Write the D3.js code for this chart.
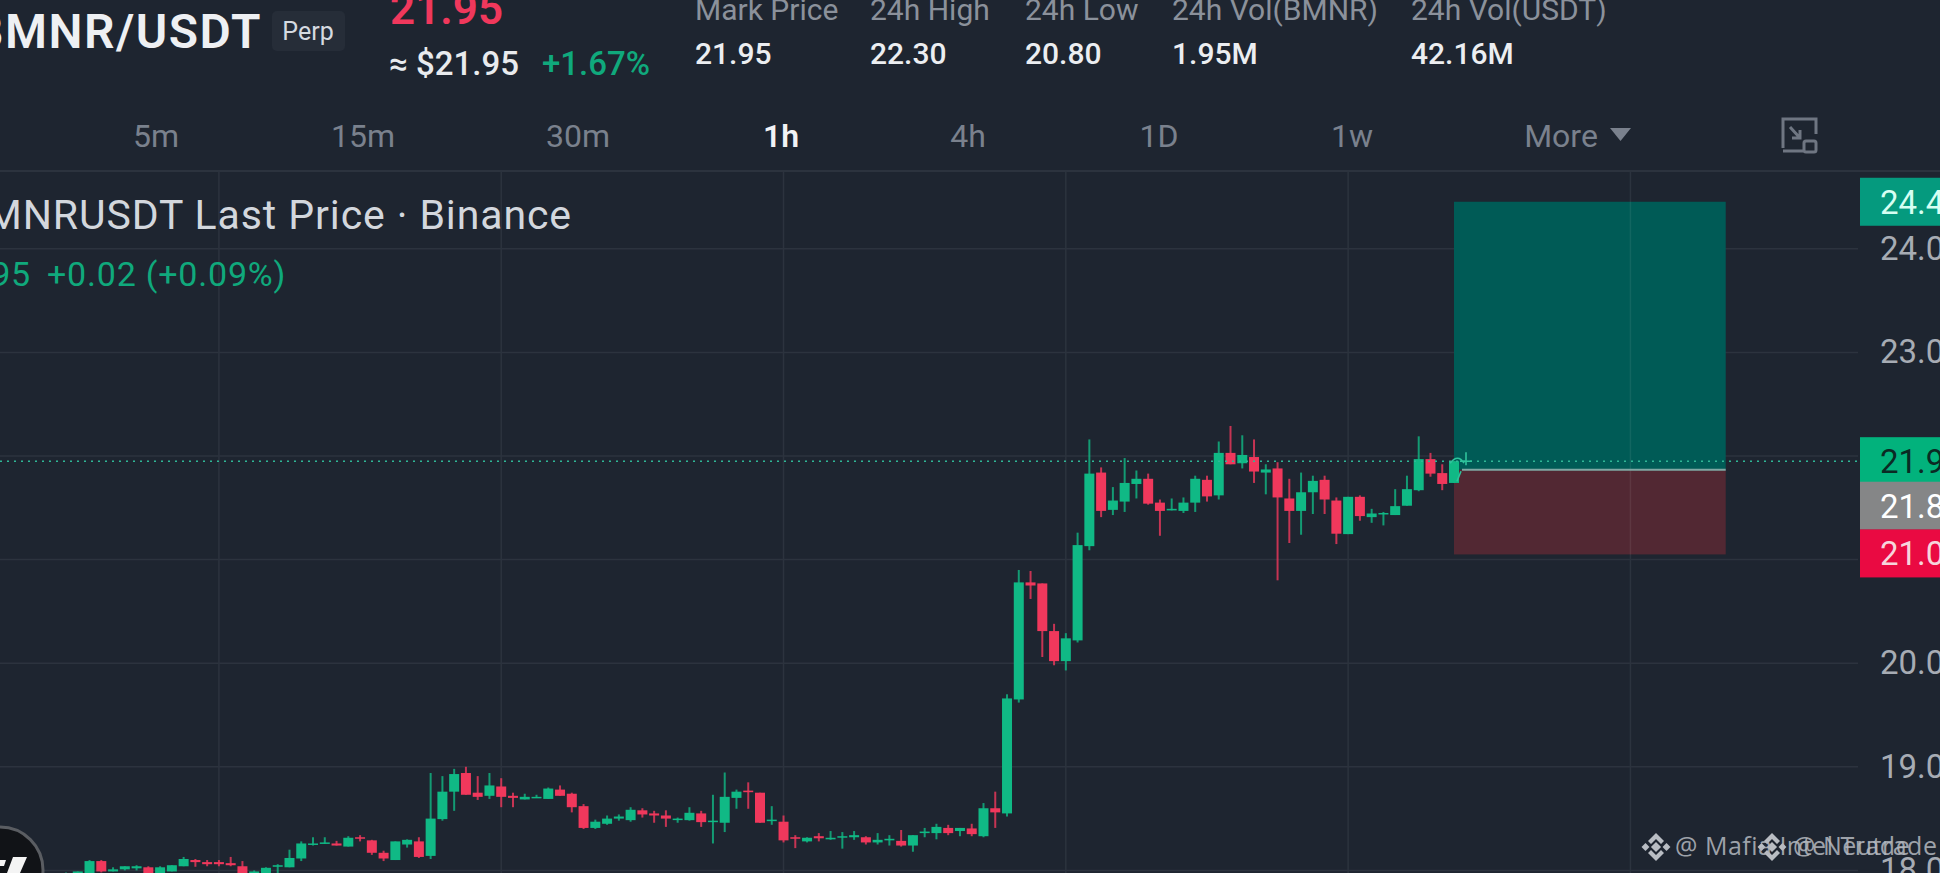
<!DOCTYPE html>
<html><head><meta charset="utf-8">
<script src="https://cdn.jsdelivr.net/npm/d3@7"></script>
<style>html,body{margin:0;padding:0;background:#1e2530;overflow:hidden}svg{display:block}text{font-family:Roboto,sans-serif}</style>
</head><body><div id="c"></div>
<script>
const opens=[17.93,17.93,17.96,18.09,17.99,18.01,18.02,18.03,17.97,17.99,18.04,18.10,18.08,18.08,18.07,18.04,17.93,17.97,18.035,18.03,
18.115,18.25,18.26,18.26,18.23,18.32,18.29,18.17,18.10,18.25,18.28,18.14,18.495,18.76,18.94,18.75,18.72,18.81,18.72,18.685,
18.70,18.69,18.78,18.74,18.62,18.41,18.45,18.50,18.485,18.58,18.55,18.53,18.49,18.485,18.55,18.47,18.46,18.70,18.77,18.75,
18.476,18.47,18.32,18.28,18.33,18.30,18.32,18.32,18.32,18.27,18.29,18.285,18.24,18.36,18.36,18.41,18.38,18.405,18.33,18.60,
18.55,19.65,20.78,20.77,20.31,20.02,20.22,21.13,21.84,21.48,21.56,21.73,21.78,21.55,21.475,21.47,21.55,21.77,21.62,22.03,
21.93,21.99,21.84,21.88,21.59,21.47,21.65,21.77,21.57,21.246,21.606,21.41,21.436,21.43,21.52,21.67,21.97,21.835,21.74];
const highs=[17.98,17.99,18.10,18.10,18.03,18.04,18.05,18.04,18.04,18.05,18.13,18.11,18.10,18.10,18.13,18.09,18.00,18.03,18.06,18.20,
18.28,18.32,18.32,18.285,18.33,18.34,18.295,18.19,18.28,18.30,18.32,18.94,18.91,18.98,19.00,18.91,18.94,18.89,18.75,18.74,
18.73,18.80,18.82,18.75,18.64,18.49,18.53,18.54,18.61,18.60,18.575,18.58,18.51,18.61,18.575,18.73,18.945,18.78,18.85,18.75,
18.62,18.53,18.34,18.32,18.36,18.38,18.37,18.38,18.33,18.36,18.34,18.39,18.34,18.41,18.45,18.44,18.41,18.45,18.65,18.76,
19.70,20.90,20.89,20.77,20.38,20.29,21.26,22.16,21.89,21.70,21.98,21.86,21.83,21.58,21.59,21.60,21.81,21.81,22.14,22.29,
22.20,22.16,21.92,21.94,21.78,21.84,21.81,21.81,21.60,21.606,21.62,21.49,21.46,21.68,21.81,22.19,22.03,21.92,21.95];
const lows=[17.93,17.93,17.93,17.98,17.99,18.00,18.00,17.93,17.95,17.99,18.04,18.035,18.04,18.04,18.04,17.90,17.93,17.94,17.97,18.03,
18.09,18.24,18.255,18.24,18.23,18.28,18.15,18.09,18.10,18.22,18.12,18.11,18.48,18.575,18.73,18.68,18.69,18.61,18.61,18.685,
18.70,18.69,18.72,18.56,18.40,18.40,18.44,18.48,18.47,18.51,18.46,18.42,18.46,18.48,18.42,18.26,18.37,18.595,18.595,18.46,
18.44,18.27,18.215,18.27,18.28,18.295,18.21,18.295,18.25,18.25,18.24,18.23,18.18,18.32,18.30,18.34,18.33,18.33,18.32,18.41,
18.52,19.62,20.62,20.06,19.98,19.93,20.20,21.09,21.41,21.43,21.46,21.59,21.53,21.23,21.475,21.45,21.46,21.56,21.58,21.92,
21.88,21.74,21.63,20.80,21.16,21.24,21.44,21.44,21.15,21.246,21.375,21.355,21.33,21.43,21.52,21.66,21.80,21.67,21.74];
const closes=[17.96,17.99,18.09,17.99,18.01,18.04,18.04,17.96,18.03,18.05,18.11,18.08,18.06,18.06,18.05,17.93,17.99,18.025,18.05,18.12,
18.26,18.26,18.27,18.24,18.315,18.31,18.17,18.115,18.28,18.295,18.13,18.50,18.76,18.93,18.73,18.71,18.82,18.71,18.70,18.71,
18.71,18.79,18.72,18.61,18.41,18.47,18.50,18.52,18.585,18.54,18.53,18.50,18.50,18.556,18.466,18.48,18.71,18.76,18.755,18.46,
18.49,18.29,18.31,18.315,18.31,18.315,18.33,18.34,18.27,18.295,18.305,18.24,18.34,18.375,18.42,18.36,18.41,18.35,18.60,18.56,
19.66,20.78,20.75,20.31,20.02,20.24,21.14,21.83,21.47,21.57,21.74,21.78,21.54,21.47,21.49,21.55,21.78,21.61,22.03,21.92,
22.01,21.85,21.87,21.60,21.47,21.65,21.76,21.58,21.25,21.606,21.42,21.445,21.45,21.516,21.68,21.97,21.83,21.73,21.95];
const priceTicks=[24,23,20,19,18];
const gridPrices=[24,23,22,21,20,19,18];
const gridSlots=[13,37,61,85,109,133];
const lastPrice=21.95, targetPrice=24.454, entryPrice=21.867, stopPrice=21.05;
const tags=[["24.4",24.454,"#059a7e","#d6fff2"],["21.9",21.95,"#02b27c","#0b2a24"],["21.8",21.52,"#858687","#ffffff"],["21.0",21.05,"#ea0a42","#f6d5dc"]];
const stats=[["Mark Price","21.95"],["24h High","22.30"],["24h Low","20.80"],["24h Vol(BMNR)","1.95M"],["24h Vol(USDT)","42.16M"]];
const statX=[695,870,1025,1172,1411];
const tabs=["5m","15m","30m","1h","4h","1D","1w","More"];
const tabX=[156,363,578,781,968,1159,1352,1561];

const W=1940,H=873;
const svg=d3.select("#c").append("svg").attr("width",W).attr("height",H).attr("viewBox",`0 0 ${W} ${H}`);
svg.append("rect").attr("width",W).attr("height",H).attr("fill","#1e2530");
const x=d3.scaleLinear().domain([0,118]).range([66,1454]);
const y=d3.scaleLinear().domain([18,24]).range([870.4,248.8]);
const GRID="#2c333e",GREEN="#10b985",RED="#f0385c";
const T=(s,px,py,size,fill,o={})=>svg.append("text").attr("x",px).attr("y",py).attr("font-size",size).attr("fill",fill).attr("font-weight",o.w||400).attr("text-anchor",o.a||"start").style("letter-spacing",(o.ls||0)+"px").text(s);

// grid
svg.append("line").attr("x1",0).attr("x2",W).attr("y1",171).attr("y2",171).attr("stroke",GRID).attr("stroke-width",2);
svg.selectAll(".gh").data(gridPrices).join("line").attr("x1",0).attr("x2",1858).attr("y1",d=>y(d)).attr("y2",d=>y(d)).attr("stroke",GRID).attr("stroke-width",1.5);
svg.selectAll(".gv").data(gridSlots).join("line").attr("x1",d=>x(d)).attr("x2",d=>x(d)).attr("y1",171).attr("y2",H).attr("stroke",GRID).attr("stroke-width",1.5);

// position box
const bx=x(118),bw=x(141.1)-x(118);
svg.append("rect").attr("x",bx).attr("width",bw).attr("y",y(targetPrice)).attr("height",y(entryPrice)-y(targetPrice)).attr("fill","#005b56");
svg.append("rect").attr("x",bx).attr("width",bw).attr("y",y(entryPrice)).attr("height",y(stopPrice)-y(entryPrice)).attr("fill","#522833");
svg.append("line").attr("x1",x(133)).attr("x2",x(133)).attr("y1",y(targetPrice)).attr("y2",y(stopPrice)).attr("stroke","#fff").attr("stroke-opacity",.07).attr("stroke-width",1.5);
svg.append("line").attr("x1",bx+8).attr("x2",bx+bw).attr("y1",y(entryPrice)).attr("y2",y(entryPrice)).attr("stroke","#7fa8a4").attr("stroke-width",2);

// candles
const idx=d3.range(opens.length);
const col=i=>closes[i]>=opens[i]?GREEN:RED;
svg.append("g").selectAll("line").data(idx).join("line")
 .attr("x1",i=>x(i)).attr("x2",i=>x(i)).attr("y1",i=>y(highs[i])).attr("y2",i=>y(lows[i]))
 .attr("stroke",col).attr("stroke-opacity",.8).attr("stroke-width",2);
svg.append("g").selectAll("rect").data(idx).join("rect")
 .attr("x",i=>x(i)-5).attr("width",10)
 .attr("y",i=>y(Math.max(opens[i],closes[i])))
 .attr("height",i=>Math.max(1.5,Math.abs(y(opens[i])-y(closes[i]))))
 .attr("fill",col);

// last price line + tool glyph
svg.append("line").attr("x1",0).attr("x2",1860).attr("y1",y(lastPrice)).attr("y2",y(lastPrice)).attr("stroke","#2fb796").attr("stroke-width",1.6).attr("stroke-dasharray","2 5");
const gx=x(118)+12,gy=y(lastPrice);
svg.append("path").attr("d",`M${gx-6} ${gy}H${gx+6}M${gx} ${gy-9}V${gy+4}M${gx-16} ${gy+2}Q${gx-8} ${gy-8} ${gx-2} ${gy+2}M${gx-5} ${gy+10}L${gx-9} ${gy+20}`).attr("fill","none").attr("stroke","#2fc39c").attr("stroke-width",1.6);

// price axis
const yAxis=d3.axisRight(y).tickValues(priceTicks).tickSize(0).tickFormat(d3.format(".1f"));
const ga=svg.append("g").attr("transform","translate(1880,0)").call(yAxis);
ga.select(".domain").remove();
ga.selectAll("text").attr("x",0).attr("font-size",33).attr("fill","#a7acb4").style("font-family","Roboto,sans-serif");

// tags
const tagH=48;
tags.forEach(([s,p,bg,fg],i)=>{
  const cy=y(p)+(i==3?-1:0);
  svg.append("rect").attr("x",1860).attr("y",cy-tagH/2).attr("width",80).attr("height",tagH).attr("fill",bg);
  T(s,1880,cy+12,33,fg);
});

// header
T("BMNR/USDT",262,48,48,"#eef0f3",{a:"end",w:600,ls:1.5});
svg.append("rect").attr("x",272).attr("y",11).attr("width",73).attr("height",40).attr("rx",5).attr("fill","#262d38");
T("Perp",308,40,25,"#d6dae0",{a:"middle"});
T("21.95",390,24,44,RED,{w:600});
T("≈ $21.95",389,75,33,"#e9ebee",{w:500});
T("+1.67%",542,75,33,"#10a97c",{w:500});
stats.forEach(([a,b],i)=>{T(a,statX[i],20,30,"#8b919b");T(b,statX[i],64,30,"#eceef1",{w:500});});
tabs.forEach((s,i)=>T(s,tabX[i],147,32,s=="1h"?"#f2f3f5":"#7a818d",{a:"middle",w:s=="1h"?600:400}));
svg.append("path").attr("d","M1610 128H1631L1620.5 141Z").attr("fill","#7a818d");
svg.append("path").attr("d","M1783 148V119H1816V134M1783 151H1803M1790 127L1800 138M1800 130V138H1792").attr("fill","none").attr("stroke","#6f7682").attr("stroke-width",3);
svg.append("rect").attr("x",1804).attr("y",141).attr("width",12).attr("height",11).attr("rx",2).attr("fill","none").attr("stroke","#6f7682").attr("stroke-width",3);

// legend
T("BMNRUSDT Last Price · Binance",572,229,41,"#d3d7dd",{a:"end",ls:.9});
T("21.95",31,286,34,"#10a97c",{a:"end",ls:.8});
T("+0.02 (+0.09%)",47,286,34,"#10a97c",{ls:.8});

// watermark
const mark=(cx,cy)=>{const g=svg.append("g").attr("transform",`translate(${cx},${cy})`).attr("fill","#b9bdc3");
  [[0,0,3.6],[-10.5,0,2.8],[10.5,0,2.8]].forEach(([a,b,s])=>g.append("rect").attr("x",a-s).attr("y",b-s).attr("width",2*s).attr("height",2*s).attr("transform",`rotate(45 ${a} ${b})`));
  g.append("path").attr("d","M0 -14L8 -6L5 -3L0 -8L-5 -3L-8 -6ZM0 14L8 6L5 3L0 8L-5 3L-8 6Z");};
mark(1656,847);mark(1772,847);
T("@ Mafia Intel Trade",1675,855,25,"#b4b8bf",{ls:.5}).style("font-family","'Open Sans',sans-serif").attr("opacity",.85);
T("@ Neutrade",1793,855,25,"#b4b8bf",{ls:.5}).style("font-family","'Open Sans',sans-serif").attr("opacity",.85);

// corner badge
svg.append("circle").attr("cx",0).attr("cy",870).attr("r",43).attr("fill","#111317").attr("stroke","#5a5d62").attr("stroke-width",3);
svg.append("path").attr("d","M13 857H27L20 873H7ZM0 860H6L4 866H0Z").attr("fill","#f4f4f4");
</script></body></html>
